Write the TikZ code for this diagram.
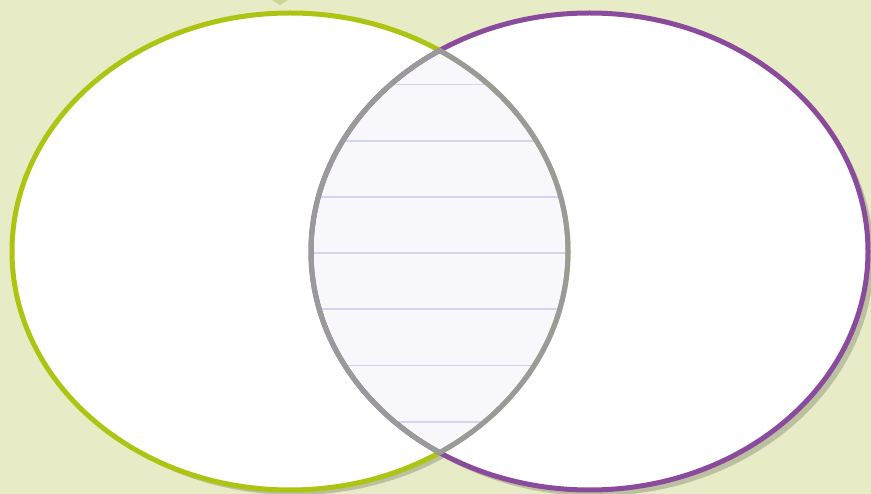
\documentclass[tikz,border=0pt]{standalone}
\usepackage{tikz}
\usetikzlibrary{calc}

\definecolor{bgolive}{HTML}{E8ECC6}
\definecolor{tipgreen}{HTML}{CDD68F}
\definecolor{shadowgray}{HTML}{BBC0A0}
\definecolor{ringgreen}{HTML}{AEC412}
\definecolor{ringpurple}{HTML}{8B4B9D}
\definecolor{lensgray}{HTML}{9A9A9A}
\definecolor{paper}{HTML}{F8F8FC}
\definecolor{ruleblue}{HTML}{D2D5EC}

\begin{document}
\begin{tikzpicture}[
    x=1pt, y=-1pt,
    ring/.style={line width=5pt},
    shadow/.style={fill=shadowgray},
    ruling/.style={ruleblue, line width=1.8pt}
]

% background and size
\fill[bgolive] (0,0) rectangle (871,494);
\useasboundingbox (0,0) rectangle (871,494);

\coordinate (leftc) at (290,251.5);
\coordinate (rightc) at (589.5,251.5);

% little marker at the top
\fill[tipgreen] (272,0) -- (288,0) -- (280,5) -- cycle;

% shadows
\fill[shadow] ($(leftc)+(5,5)$) ellipse [x radius=278, y radius=238.5];
\fill[shadow] ($(rightc)+(6,6)$) ellipse [x radius=278.5, y radius=238.5];

% white sets
\fill[white] (leftc) ellipse [x radius=278, y radius=238.5];
\fill[white] (rightc) ellipse [x radius=278.5, y radius=238.5];

% lined paper in the overlap
\begin{scope}
  \clip (leftc) ellipse [x radius=278, y radius=238.5];
  \clip (rightc) ellipse [x radius=278.5, y radius=238.5];
  \fill[paper] (300,0) rectangle (580,494);
  \foreach \yy in {84.5,140.7,196.9,253.1,309.3,365.5,421.7}
    \draw[ruling] (300,\yy) -- (580,\yy);
\end{scope}

% outlines
\draw[ring, ringgreen] (leftc) ellipse [x radius=278, y radius=238.5];
\draw[ring, ringpurple] (rightc) ellipse [x radius=278.5, y radius=238.5];

% overlap outline
\begin{scope}
  \clip (leftc) ellipse [x radius=280.5, y radius=241];
  \draw[ring, lensgray] (rightc) ellipse [x radius=278.5, y radius=238.5];
\end{scope}
\begin{scope}
  \clip (rightc) ellipse [x radius=281, y radius=241];
  \draw[ring, lensgray] (leftc) ellipse [x radius=278, y radius=238.5];
\end{scope}

\end{tikzpicture}
\end{document}
